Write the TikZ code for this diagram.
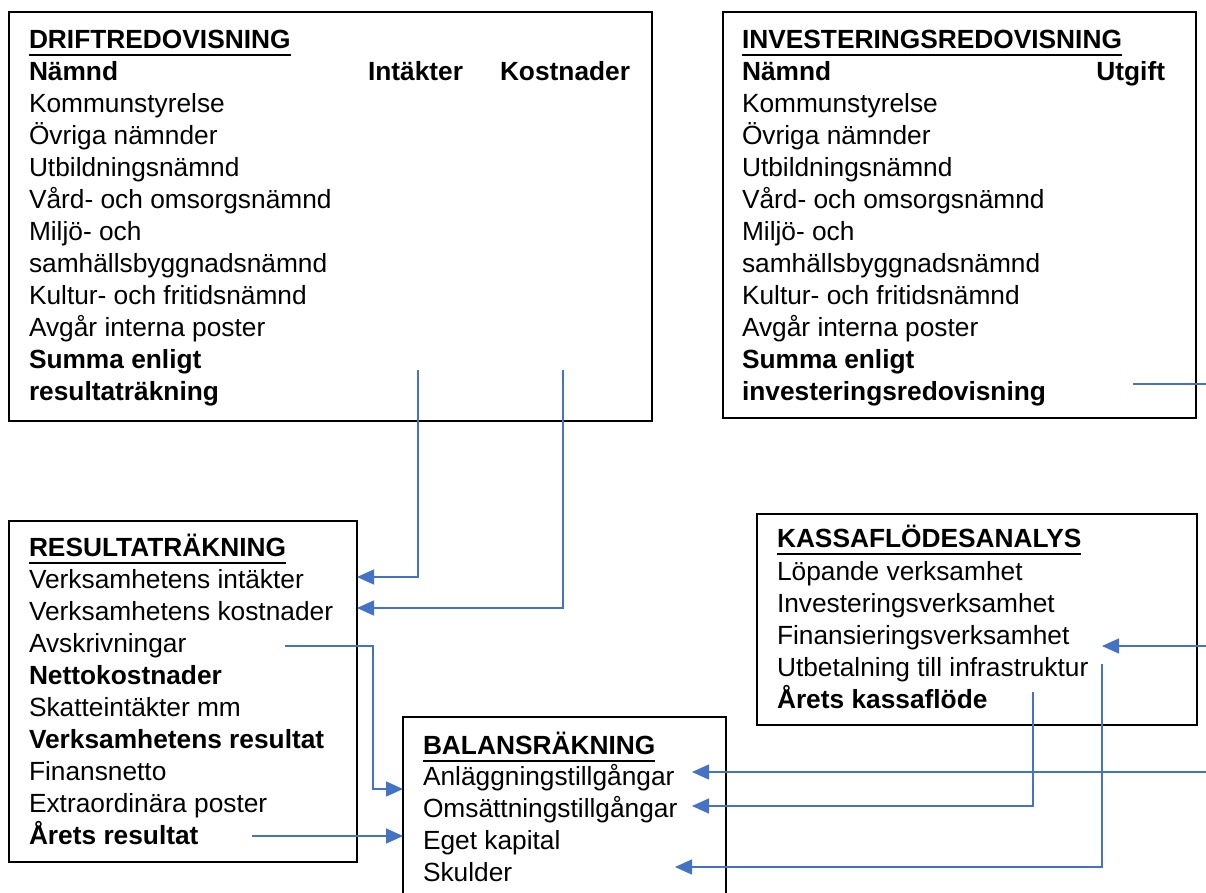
\documentclass[tikz,border=0pt]{standalone}
\usepackage{fontspec}
\setmainfont{Liberation Sans}
\usetikzlibrary{arrows.meta}
\definecolor{cblue}{RGB}{68,114,196}
\begin{document}
\begin{tikzpicture}[x=1pt,y=-1pt,
  box/.style={draw=black,line width=2.7pt,anchor=north west,inner sep=0pt,outer sep=0pt},
  txt/.style={anchor=base west,inner sep=0pt,outer sep=0pt,font=\fontsize{26.3}{32}\selectfont},
  btxt/.style={txt,font=\fontsize{26.3}{32}\selectfont\bfseries},
  ul/.style={line width=2pt},
  conn/.style={draw=cblue,line width=1.5pt},
  arr/.style={conn,-{Triangle[length=17pt,width=15pt]}}]
\useasboundingbox (0,0) rectangle (1206,892);
\clip (0,0) rectangle (1206,892);

% boxes
\node[box,minimum width=643pt,minimum height=409pt] (drift) at (9,12) {};
\node[box,minimum width=473pt,minimum height=406pt] (inv) at (723,12) {};
\node[box,minimum width=348pt,minimum height=341pt] (res) at (9,521) {};
\node[box,minimum width=440pt,minimum height=211pt] (kassa) at (757,514) {};
\node[box,minimum width=323pt,minimum height=300pt] (bal) at (403,717) {};

% DRIFTREDOVISNING
\node[btxt] (dt) at (29,48) {DRIFTREDOVISNING};
\draw[ul] ([yshift=-7pt]dt.base west) -- ([yshift=-7pt]dt.base east);
\node[btxt] (dn) at (29,80) {Nämnd};
\node[btxt] (di) at (368,80) {Intäkter};
\node[btxt] (dk) at (500,80) {Kostnader};
\node[txt] (d1) at (29,112) {Kommunstyrelse};
\node[txt] (d2) at (29,144) {Övriga nämnder};
\node[txt] (d3) at (29,176) {Utbildningsnämnd};
\node[txt] (d4) at (29,208) {Vård- och omsorgsnämnd};
\node[txt] (d5) at (29,240) {Miljö- och};
\node[txt] (d6) at (29,272) {samhällsbyggnadsnämnd};
\node[txt] (d7) at (29,304) {Kultur- och fritidsnämnd};
\node[txt] (d8) at (29,336) {Avgår interna poster};
\node[btxt] (d9) at (29,368) {Summa enligt};
\node[btxt] (d10) at (29,400) {resultaträkning};

% INVESTERINGSREDOVISNING
\node[btxt] (it) at (742,48) {INVESTERINGSREDOVISNING};
\draw[ul] ([yshift=-7pt]it.base west) -- ([yshift=-7pt]it.base east);
\node[btxt] (in) at (742,80) {Nämnd};
\node[btxt,anchor=base east] (iu) at (1165,80) {Utgift};
\node[txt] (i1) at (742,112) {Kommunstyrelse};
\node[txt] (i2) at (742,144) {Övriga nämnder};
\node[txt] (i3) at (742,176) {Utbildningsnämnd};
\node[txt] (i4) at (742,208) {Vård- och omsorgsnämnd};
\node[txt] (i5) at (742,240) {Miljö- och};
\node[txt] (i6) at (742,272) {samhällsbyggnadsnämnd};
\node[txt] (i7) at (742,304) {Kultur- och fritidsnämnd};
\node[txt] (i8) at (742,336) {Avgår interna poster};
\node[btxt] (i9) at (742,368) {Summa enligt};
\node[btxt] (i10) at (742,400) {investeringsredovisning};

% RESULTATRÄKNING
\node[btxt] (rt) at (29,556) {RESULTATRÄKNING};
\draw[ul] ([yshift=-7pt]rt.base west) -- ([yshift=-7pt]rt.base east);
\node[txt] (r1) at (29,588) {Verksamhetens intäkter};
\node[txt] (r2) at (29,620) {Verksamhetens kostnader};
\node[txt] (r3) at (29,652) {Avskrivningar};
\node[btxt] (r4) at (29,684) {Nettokostnader};
\node[txt] (r5) at (29,716) {Skatteintäkter mm};
\node[btxt] (r6) at (29,748) {Verksamhetens resultat};
\node[txt] (r7) at (29,780) {Finansnetto};
\node[txt] (r8) at (29,812) {Extraordinära poster};
\node[btxt] (r9) at (29,844) {Årets resultat};

% KASSAFLÖDESANALYS
\node[btxt] (kt) at (777,547) {KASSAFLÖDESANALYS};
\draw[ul] ([yshift=-7pt]kt.base west) -- ([yshift=-7pt]kt.base east);
\node[txt] (k1) at (777,580) {Löpande verksamhet};
\node[txt] (k2) at (777,612) {Investeringsverksamhet};
\node[txt] (k3) at (777,644) {Finansieringsverksamhet};
\node[txt] (k4) at (777,676) {Utbetalning till infrastruktur};
\node[btxt] (k5) at (777,708) {Årets kassaflöde};

% BALANSRÄKNING
\node[btxt] (bt) at (423,754) {BALANSRÄKNING};
\draw[ul] ([yshift=-7pt]bt.base west) -- ([yshift=-7pt]bt.base east);
\node[txt] (b1) at (423,785) {Anläggningstillgångar};
\node[txt] (b2) at (423,817) {Omsättningstillgångar};
\node[txt] (b3) at (423,849) {Eget kapital};
\node[txt] (b4) at (423,881) {Skulder};

% connector free ends
\coordinate (s1) at (418,370);
\coordinate (s2) at (563,370);
\coordinate (s3) at (285,646);
\coordinate (s4) at (252,836);
\coordinate (s5) at (1133,384);
\coordinate (e5) at (1206,384);
\coordinate (s6) at (1206,646);
\coordinate (t6) at (1102,646);
\coordinate (s7) at (1102,664);
\coordinate (t7) at (675,867);
\coordinate (s8) at (1033,692);
\coordinate (t8) at (692,806);
\coordinate (s9) at (1206,772);
\coordinate (t9) at (692,772);

% connectors
\draw[arr] (s1) |- (res.east |- 0,577);
\draw[arr] (s2) |- (res.east |- 0,608);
\draw[arr] (s3) -- (373,646) |- (bal.west |- 0,789);
\draw[arr] (s4) -- (bal.west |- s4);
\draw[conn] (s5) -- (e5);
\draw[arr] (s6) -- (t6);
\draw[arr] (s7) |- (t7);
\draw[arr] (s8) |- (t8);
\draw[arr] (s9) -- (t9);
\end{tikzpicture}
\end{document}
